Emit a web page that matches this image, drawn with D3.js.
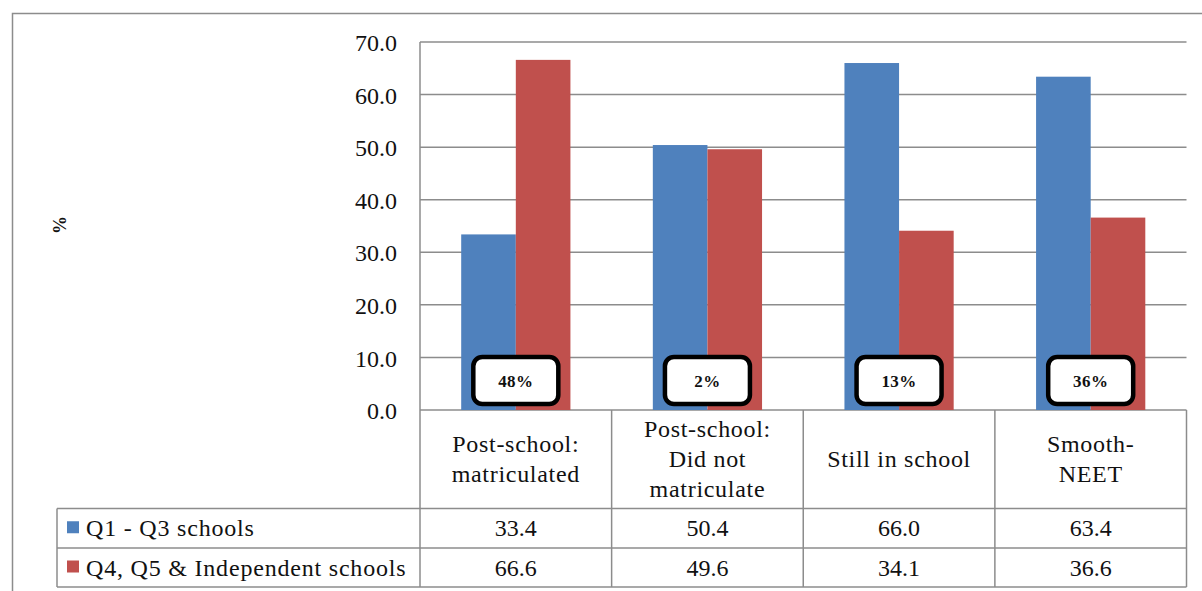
<!DOCTYPE html>
<html>
<head>
<meta charset="utf-8">
<script src="https://cdn.jsdelivr.net/npm/d3@7"></script>
<style>
  html, body { margin: 0; padding: 0; background: #fff; }
  svg { display: block; }
</style>
</head>
<body>
<svg id="chart" width="1202" height="591"></svg>
<script>
// Share of learners by school quintile group, per outcome category
const categories = [["Post-school:", "matriculated"], ["Post-school:", "Did not", "matriculate"], ["Still in school"], ["Smooth-", "NEET"]];
const seriesNames = ["Q1 - Q3 schools", "Q4, Q5 & Independent schools"];
const q1q3Values = [33.4, 50.4, 66.0, 63.4];
const q4q5IndValues = [66.6, 49.6, 34.1, 36.6];
const calloutLabels = ["48%", "2%", "13%", "36%"];
const yTicks = [0, 10, 20, 30, 40, 50, 60, 70];
const colors = ["#4F81BD", "#C0504D"];

const seriesValues = [q1q3Values, q4q5IndValues];
const FONT = "'Liberation Serif', Tinos";
const svg = d3.select("#chart");
const gridColor = "#8c8c8c";

// apply the serif face directly to every text node
function serif(sel) {
  return sel.style("font-family", FONT).style("fill", "#111");
}

const plot = { left: 420, right: 1186.5, top: 42, bottom: 410 };
const tableRows = { catBottom: 508.5, row1Bottom: 548, row2Bottom: 587 };
const legendLeft = 57;

const x = d3.scaleBand().domain(d3.range(categories.length)).range([plot.left, plot.right]);
const groupW = x.bandwidth() * 0.57;
const xs = d3.scaleBand().domain(d3.range(seriesNames.length)).range([0, groupW]);
const y = d3.scaleLinear().domain([0, 70]).range([plot.bottom, plot.top]);

// outer frame
svg.append("path")
  .attr("d", "M12.5,591 L12.5,13.5 L1202,13.5")
  .attr("fill", "none").attr("stroke", gridColor).attr("stroke-width", 1.5);

// horizontal gridlines
svg.append("g").selectAll("line").data(yTicks).join("line")
  .attr("x1", plot.left).attr("x2", plot.right)
  .attr("y1", d => y(d)).attr("y2", d => y(d))
  .attr("stroke", gridColor).attr("stroke-width", 1.5);

// y-axis tick labels
const yAxis = d3.axisLeft(y).tickValues(yTicks).tickFormat(d3.format(".1f")).tickSize(0).tickPadding(23);
const yg = svg.append("g").attr("transform", `translate(${plot.left},0)`).call(yAxis);
yg.select(".domain").remove();
yg.attr("font-family", FONT).attr("font-size", 24);
serif(yg.selectAll("text")).style("font-size", "24px").attr("dy", "0.36em");

// axis title
serif(svg.append("text"))
  .attr("transform", "translate(66,225) rotate(-90)")
  .attr("text-anchor", "middle")
  .style("font-size", "18px").style("font-weight", "bold")
  .text("%");

// bars
const groups = svg.append("g").selectAll("g").data(categories).join("g")
  .attr("transform", (d, i) => `translate(${x(i) + (x.bandwidth() - groupW) / 2},0)`);
groups.selectAll("rect")
  .data((d, i) => seriesValues.map((vals, s) => ({ s, v: vals[i] })))
  .join("rect")
  .attr("x", d => xs(d.s))
  .attr("width", xs.bandwidth())
  .attr("y", d => y(d.v))
  .attr("height", d => y(0) - y(d.v))
  .attr("fill", d => colors[d.s]);

// callout boxes
const boxW = 85, boxH = 47;
const callouts = svg.append("g").selectAll("g").data(calloutLabels).join("g")
  .attr("transform", (d, i) => `translate(${x(i) + x.bandwidth() / 2},380.5)`);
callouts.append("rect")
  .attr("x", -boxW / 2).attr("y", -boxH / 2)
  .attr("width", boxW).attr("height", boxH)
  .attr("rx", 9).attr("ry", 9)
  .attr("fill", "#fff").attr("stroke", "#000").attr("stroke-width", 4.5);
serif(callouts.append("text"))
  .attr("text-anchor", "middle").attr("y", 6)
  .style("font-size", "17px").style("font-weight", "bold").style("letter-spacing", "0.4px")
  .text(d => d);

// data table grid
const tbl = svg.append("g").attr("stroke", gridColor).attr("stroke-width", 1.5).attr("fill", "none");
// left axis line continues through the table
tbl.append("line").attr("x1", plot.left).attr("x2", plot.left).attr("y1", plot.top).attr("y2", tableRows.row2Bottom);
tbl.append("line").attr("x1", plot.right).attr("x2", plot.right).attr("y1", plot.bottom).attr("y2", tableRows.row2Bottom);
d3.range(1, categories.length).forEach(i => {
  tbl.append("line").attr("x1", x(i)).attr("x2", x(i)).attr("y1", plot.bottom).attr("y2", tableRows.row2Bottom);
});
[tableRows.catBottom, tableRows.row1Bottom, tableRows.row2Bottom].forEach(yy => {
  tbl.append("line").attr("x1", legendLeft).attr("x2", plot.right).attr("y1", yy).attr("y2", yy);
});
tbl.append("line").attr("x1", legendLeft).attr("x2", legendLeft).attr("y1", tableRows.catBottom).attr("y2", tableRows.row2Bottom);

// category labels
const lineH = 30;
serif(svg.append("g").selectAll("text").data(categories).join("text"))
  .attr("text-anchor", "middle")
  .style("font-size", "24px").style("letter-spacing", "0.7px")
  .each(function (lines, i) {
    const cy = (plot.bottom + tableRows.catBottom) / 2;
    const first = cy - (lines.length - 1) * lineH / 2 + 8;
    d3.select(this).selectAll("tspan").data(lines).join("tspan")
      .attr("x", x(i) + x.bandwidth() / 2)
      .attr("y", (l, k) => first + k * lineH)
      .text(l => l);
  });

// series rows: legend key + values
const rowTops = [tableRows.catBottom, tableRows.row1Bottom];
const rowBottoms = [tableRows.row1Bottom, tableRows.row2Bottom];
seriesNames.forEach((name, s) => {
  const mid = (rowTops[s] + rowBottoms[s]) / 2;
  svg.append("rect").attr("x", 67).attr("y", mid - 7).attr("width", 12).attr("height", 12).attr("fill", colors[s]);
  serif(svg.append("text")).attr("x", 86).attr("y", mid + 8)
    .style("font-size", "24px").style("letter-spacing", "0.8px").text(name);
  serif(svg.append("g").selectAll("text").data(seriesValues[s]).join("text"))
    .attr("x", (v, i) => x(i) + x.bandwidth() / 2)
    .attr("y", mid + 8)
    .attr("text-anchor", "middle").style("font-size", "24px")
    .text(v => d3.format(".1f")(v));
});
</script>
</body>
</html>
